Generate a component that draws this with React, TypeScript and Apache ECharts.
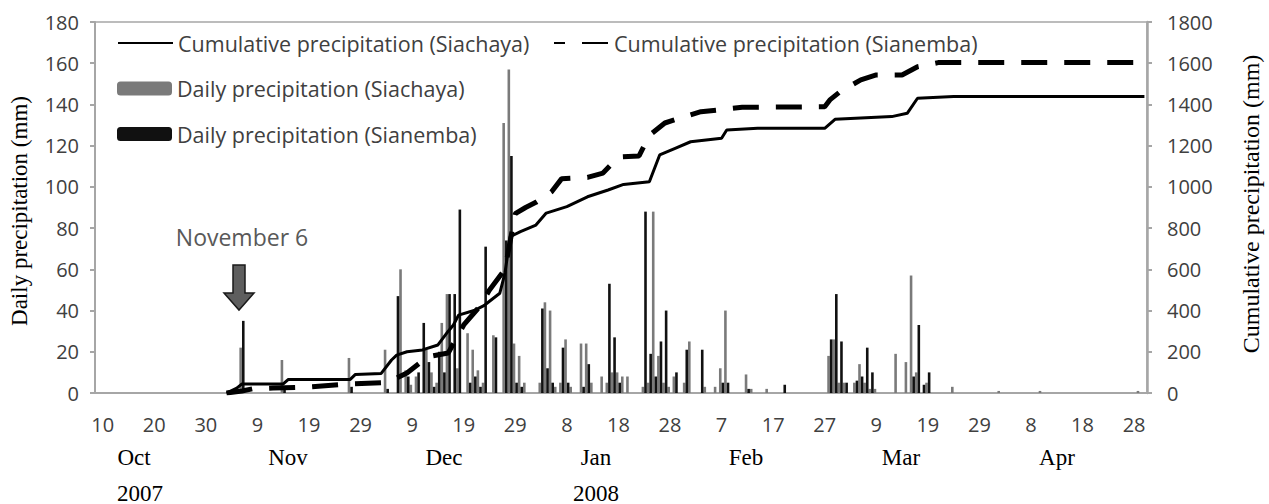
import React, { useEffect, useRef } from "react";
import * as echarts from "echarts";

// x categories: index 0 = Oct 9 2007, index 1 = Oct 10 2007 ... (day offset d -> index d + 1)
const dayCount = 204;
const tickLabels = ["10", "20", "30", "9", "19", "29", "9", "19", "29", "8", "18", "28", "7", "17", "27", "9", "19", "29", "8", "18", "28"];
const monthLabels = ["Oct", "Nov", "Dec", "Jan", "Feb", "Mar", "Apr"];
const yearLabels = ["2007", "2008"];

// [days since Oct 10 2007, mm]
const siachayaDaily: [number, number][] = [
  [27, 22], [35, 16], [48, 17], [55, 21], [58, 60], [59, 11], [60, 4], [61, 8], [63, 21], [64, 10], [65, 5],
  [66, 34], [67, 48], [69, 12], [71, 29], [72, 21], [73, 11], [74, 5], [76, 28], [78, 131], [79, 157],
  [80, 24], [81, 18], [82, 5], [85, 5], [86, 44], [87, 40], [88, 3], [89, 5], [90, 26], [91, 3], [93, 24],
  [94, 24], [95, 5], [97, 8], [98, 5], [99, 10], [100, 10], [101, 8], [102, 8], [105, 3], [106, 5], [107, 88],
  [108, 18], [109, 5], [110, 3], [111, 8], [113, 5], [114, 25], [117, 3], [119, 3], [120, 12], [121, 40],
  [125, 9], [126, 2], [129, 2], [141, 18], [142, 26], [143, 5], [144, 5], [146, 5], [147, 14], [148, 5],
  [149, 2], [150, 2], [154, 19], [156, 15], [157, 57], [158, 10], [160, 5], [165, 3], [174, 1], [182, 1], [201, 1],
];
const sianembaDaily: [number, number][] = [
  [27, 35], [35, 2], [48, 3], [55, 2], [57, 47], [59, 8], [61, 10], [62, 34], [63, 15], [64, 3], [65, 20],
  [66, 10], [67, 48], [68, 48], [69, 89], [71, 5], [72, 8], [73, 3], [74, 71], [76, 27], [78, 74], [79, 115],
  [80, 5], [81, 3], [85, 41], [86, 12], [87, 5], [89, 22], [90, 5], [93, 3], [94, 14], [98, 53], [99, 27],
  [100, 5], [105, 88], [106, 19], [107, 8], [108, 25], [109, 40], [111, 10], [113, 21], [116, 21], [120, 5],
  [121, 5], [125, 2], [132, 4], [141, 26], [142, 48], [143, 25], [144, 5], [146, 6], [147, 8], [148, 22],
  [149, 10], [157, 8], [158, 33], [159, 4], [160, 10],
];
const siachayaCum: [number, number][] = [
  [24, 0], [26, 24], [27, 44], [35, 44], [36, 66], [48, 66], [49, 90], [54, 95], [56, 160], [57, 184], [59, 200],
  [62, 209], [65, 233], [67, 300], [68, 330], [69, 378], [72, 400], [74, 425], [75, 445], [77, 484], [78, 582],
  [79, 758], [81, 783], [84, 815], [86, 873], [90, 904], [94, 952], [98, 985], [101, 1012], [106, 1025],
  [108, 1155], [111, 1187], [114, 1219], [120, 1236], [121, 1276], [127, 1284], [140, 1284], [142, 1328],
  [153, 1341], [156, 1357], [158, 1430], [165, 1438], [202, 1438],
];
const sianembaCum: [number, number][] = [
  [24, 0], [27, 10], [29, 20], [33, 24], [40, 29], [48, 44], [54, 50], [56, 60], [59, 97], [63, 176], [67, 194],
  [70, 330], [73, 417], [75, 500], [78, 600], [80, 870], [82, 900], [84, 925], [87, 975], [89, 1040], [94, 1046],
  [97, 1067], [100, 1145], [104, 1150], [106, 1250], [109, 1310], [112, 1334], [116, 1365], [120, 1375],
  [124, 1386], [140, 1389], [141, 1422], [143, 1462], [147, 1519], [150, 1543], [155, 1543], [158, 1583],
  [162, 1603], [202, 1603],
];

const SANS = "'Open Sans', Lato, sans-serif";
const SERIF = "'Liberation Serif', 'DejaVu Serif', serif";
const LABEL_COLOR = "#404040";
const AXIS_COLOR = "#a6a6a6";

export default function App() {
  const ref = useRef<HTMLDivElement>(null);

  useEffect(() => {
    if (!ref.current) return;
    const chart = echarts.init(ref.current, undefined, { renderer: "svg" });
    const categories = Array.from({ length: dayCount }, (_, i) => String(i));
    const toIdx = (arr: [number, number][]) => arr.map(([d, v]) => [d + 1, v]);

    const monthX = [134, 288, 444, 596, 746, 901, 1057];
    const yearX = [140, 596];

    const legendText = { color: LABEL_COLOR, fontFamily: SANS, fontSize: 21.5, lineHeight: 20 };
    const lineLegendBase = {
      top: 32, padding: 0, itemWidth: 55, itemHeight: 14, selectedMode: false,
      textStyle: legendText, itemStyle: { opacity: 0 },
    };

    chart.setOption({
      animation: false,
      backgroundColor: "#fff",
      grid: { left: 95, right: 122, top: 22, bottom: 111, show: true, borderColor: AXIS_COLOR, borderWidth: 1.5 },
      legend: [
        { ...lineLegendBase, data: ["Cumulative precipitation (Siachaya)"], left: 117 },
        { ...lineLegendBase, data: ["Cumulative precipitation (Sianemba)"], left: 553, lineStyle: { dashOffset: 15 } },
        {
          data: ["Daily precipitation (Siachaya)", "Daily precipitation (Sianemba)"], orient: "vertical",
          left: 117, top: 77.5, itemGap: 23.5, padding: 0, itemWidth: 55, itemHeight: 14,
          selectedMode: false, textStyle: legendText,
        },
      ],
      xAxis: {
        type: "category",
        data: categories,
        boundaryGap: true,
        axisLine: { lineStyle: { color: AXIS_COLOR, width: 2 } },
        axisTick: {
          alignWithLabel: true,
          interval: (i: number) => (i - 1) % 5 === 0,
          length: 5,
          lineStyle: { color: AXIS_COLOR, width: 2 },
        },
        axisLabel: {
          interval: (i: number) => (i - 1) % 10 === 0,
          formatter: (v: string) => tickLabels[(Number(v) - 1) / 10] ?? "",
          margin: 21,
          color: LABEL_COLOR,
          fontFamily: SANS,
          fontSize: 20,
        },
        splitLine: { show: false },
      },
      yAxis: [
        {
          type: "value", min: 0, max: 180, interval: 20, position: "left",
          axisLine: { show: true, lineStyle: { color: AXIS_COLOR, width: 2 } },
          axisTick: { show: true, length: 5, lineStyle: { color: AXIS_COLOR, width: 2 } },
          axisLabel: { margin: 16, color: LABEL_COLOR, fontFamily: SANS, fontSize: 20, formatter: (v: number) => String(v) },
          splitLine: { show: false },
        },
        {
          type: "value", min: 0, max: 1800, interval: 200, position: "right",
          axisLine: { show: true, lineStyle: { color: AXIS_COLOR, width: 2.5 } },
          axisTick: { show: true, length: 5, lineStyle: { color: AXIS_COLOR, width: 2 } },
          axisLabel: { margin: 20, color: LABEL_COLOR, fontFamily: SANS, fontSize: 20, formatter: (v: number) => String(v) },
          splitLine: { show: false },
        },
      ],
      series: [
        {
          name: "Daily precipitation (Siachaya)", type: "bar", yAxisIndex: 0,
          data: toIdx(siachayaDaily), itemStyle: { color: "#7a7a7a" },
          barWidth: 2.6, barGap: "0%", z: 1,
        },
        {
          name: "Daily precipitation (Sianemba)", type: "bar", yAxisIndex: 0,
          data: toIdx(sianembaDaily), itemStyle: { color: "#111" },
          barWidth: 2.6, barGap: "0%", z: 1,
        },
        {
          name: "Cumulative precipitation (Siachaya)", type: "line", yAxisIndex: 1,
          data: toIdx(siachayaCum), symbol: "none", showSymbol: false,
          lineStyle: { color: "#000", width: 3 }, itemStyle: { color: "#000" }, z: 5,
        },
        {
          name: "Cumulative precipitation (Sianemba)", type: "line", yAxisIndex: 1,
          data: toIdx(sianembaCum), symbol: "none", showSymbol: false,
          lineStyle: { color: "#000", width: 5, type: [26, 17] }, itemStyle: { color: "#000" }, z: 5,
        },
      ],
      graphic: [
        {
          type: "text", x: 19, y: 211, rotation: Math.PI / 2,
          style: { text: "Daily precipitation (mm)", fill: "#000", font: `23px ${SERIF}`, align: "center", verticalAlign: "middle" },
        },
        {
          type: "text", x: 1251, y: 204, rotation: Math.PI / 2,
          style: { text: "Cumulative precipitation (mm)", fill: "#000", font: `24px ${SERIF}`, align: "center", verticalAlign: "middle" },
        },
        ...monthLabels.map((m, i) => ({
          type: "text", x: monthX[i], y: 457,
          style: { text: m, fill: "#000", font: `23px ${SERIF}`, align: "center", verticalAlign: "middle" },
        })),
        ...yearLabels.map((y, i) => ({
          type: "text", x: yearX[i], y: 493,
          style: { text: y, fill: "#000", font: `23px ${SERIF}`, align: "center", verticalAlign: "middle" },
        })),
        {
          type: "text", x: 242, y: 237,
          style: { text: "November 6", fill: "#595959", font: `23px ${SANS}`, align: "center", verticalAlign: "middle" },
        },
        {
          type: "polygon",
          shape: { points: [[233, 265], [245, 265], [245, 293], [254, 293], [239, 310], [224, 293], [233, 293]] },
          style: { fill: "#5e5e5e", stroke: "#1a1a1a", lineWidth: 1.5 },
        },
      ],
    });

    return () => chart.dispose();
  }, []);

  return <div ref={ref} style={{ position: "absolute", left: 0, top: 0, width: 1269, height: 504 }} />;
}
